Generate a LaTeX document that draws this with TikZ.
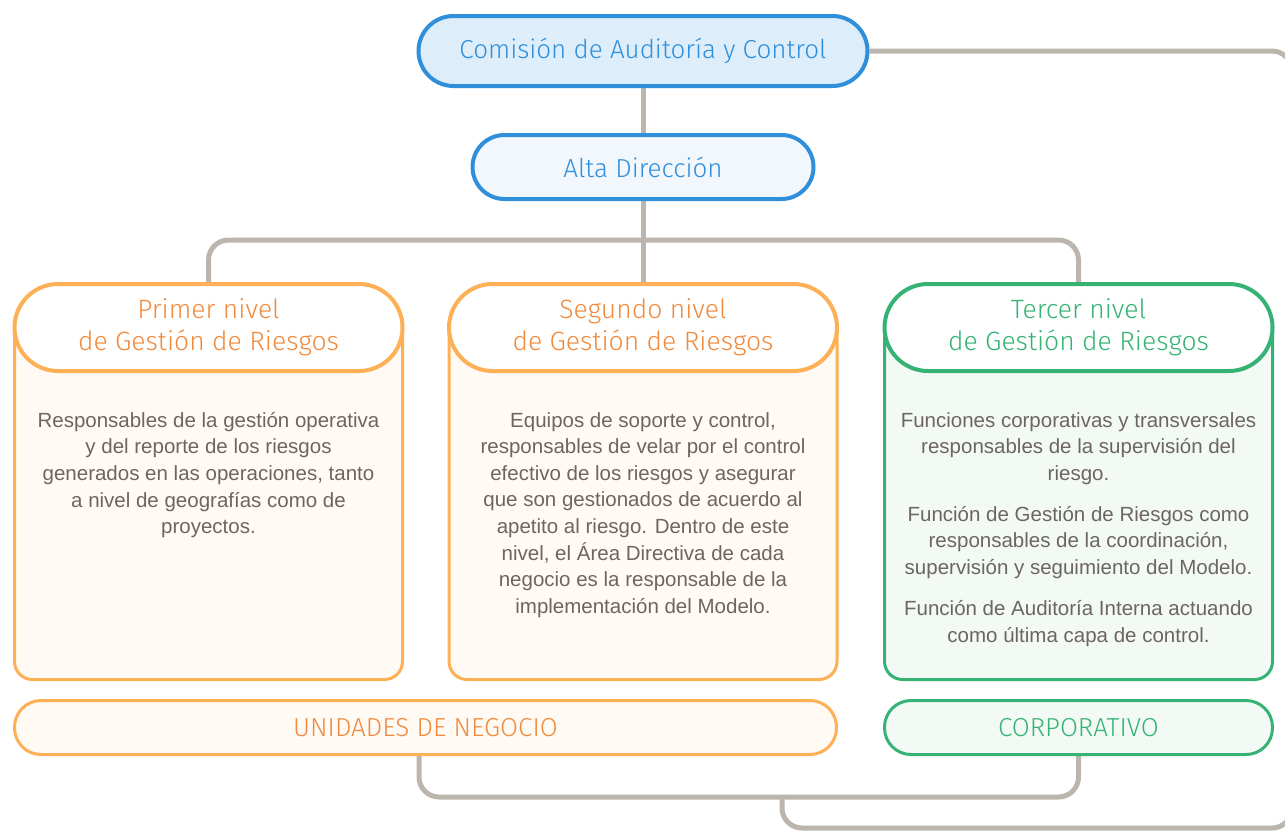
\documentclass[tikz,border=0pt]{standalone}
\usepackage{fontspec}
\setmainfont{Liberation Sans}
\newfontfamily\headfont{Fira Sans Light}
\usetikzlibrary{backgrounds}
\definecolor{bluebd}{HTML}{2F8FDB}
\definecolor{bluefillA}{HTML}{DDEDF9}
\definecolor{bluefillB}{HTML}{F1F7FD}
\definecolor{orangebd}{HTML}{FDB056}
\definecolor{orangefill}{HTML}{FFFAF4}
\definecolor{orangetxt}{HTML}{F08A3C}
\definecolor{greenbd}{HTML}{36B374}
\definecolor{greenfill}{HTML}{F3FAF6}
\definecolor{greentxt}{HTML}{36B374}
\definecolor{linegray}{HTML}{BCB5AE}
\definecolor{bodytxt}{HTML}{6D6560}
\begin{document}
\begin{tikzpicture}[x=1pt,y=-1pt,
  conn/.style={draw=linegray, line width=5pt, rounded corners=20pt},
  topbox/.style={draw=bluebd, line width=4pt, text=bluebd, inner sep=0pt,
     font=\headfont\fontsize{26}{30}\selectfont},
  colbox/.style={line width=3pt, rounded corners=18pt, inner sep=0pt,
     minimum width=388pt, minimum height=368pt},
  headpill/.style={line width=4pt, fill=white, rounded corners=43.5pt, inner sep=0pt,
     minimum width=388pt, minimum height=87pt, align=center,
     font=\headfont\fontsize{26.5}{31.7}\selectfont},
  basepill/.style={line width=3pt, rounded corners=26.5pt, inner sep=0pt,
     minimum height=54pt, font=\headfont\fontsize{26}{30}\selectfont},
  bodytext/.style={text=bodytxt, align=center, inner sep=0pt, anchor=north,
     font=\fontsize{20.5}{26.6}\selectfont}
]
\useasboundingbox (0,0) rectangle (1285,831);

% top boxes
\node[topbox, fill=bluefillA, rounded corners=35pt, minimum width=449pt, minimum height=70pt]
  (com) at (643,51) {Comisión de Auditoría y Control};
\node[topbox, fill=bluefillB, rounded corners=32pt, minimum width=341pt, minimum height=64pt]
  (alta) at (643,167) {Alta Dirección};

% column boxes
\node[colbox, draw=orangebd, fill=orangefill] (b1) at (208.5,495.5) {};
\node[colbox, draw=orangebd, fill=orangefill] (b2) at (643,495.5) {};
\node[colbox, draw=greenbd, fill=greenfill] (b3) at (1078.5,495.5) {};

% header pills
\node[headpill, draw=orangebd, text=orangetxt] (h1) at (208.5,327.5) {Primer nivel\\de Gestión de Riesgos};
\node[headpill, draw=orangebd, text=orangetxt] (h2) at (643,327.5) {Segundo nivel\\de Gestión de Riesgos};
\node[headpill, draw=greenbd, text=greentxt] (h3) at (1078.5,327.5) {Tercer nivel\\de Gestión de Riesgos};

% body texts
\node[bodytext] (t1) at (208.5,412) {Responsables de la gestión operativa\\y del reporte de los riesgos\\generados en las operaciones, tanto\\a nivel de geografías como de\\proyectos.};
\node[bodytext] (t2) at (643,412) {Equipos de soporte y control,\\responsables de velar por el control\\efectivo de los riesgos y asegurar\\que son gestionados de acuerdo al\\apetito al riesgo. Dentro de este\\nivel, el Área Directiva de cada\\negocio es la responsable de la\\implementación del Modelo.};
\node[bodytext] (t3) at (1078.5,412) {Funciones corporativas y transversales\\responsables de la supervisión del\\riesgo.\\[14.4pt]Función de Gestión de Riesgos como\\responsables de la coordinación,\\supervisión y seguimiento del Modelo.\\[14.4pt]Función de Auditoría Interna actuando\\como última capa de control.};

% bottom pills
\node[basepill, draw=orangebd, fill=orangefill, text=orangetxt, minimum width=822pt]
  (unid) at (425.5,727.5) {UNIDADES DE NEGOCIO};
\node[basepill, draw=greenbd, fill=greenfill, text=greentxt, minimum width=388pt]
  (corp) at (1078.5,727.5) {CORPORATIVO};

\coordinate (loopend) at (782,795);

\begin{scope}[on background layer]
\draw[conn] (com.south) -- (alta.north);
\draw[conn] (alta.south) -- (h2.north);
\draw[conn] (h1.north) -- ++(0,-42) -| (h3.north);
\draw[conn] ([xshift=-6.5pt]unid.south) -- ++(0,41) -| (corp.south);
\draw[conn] (com.east) -- (1292,51) -- (1292,828) -- (782,828) -- (loopend);
\end{scope}
\end{tikzpicture}
\end{document}
